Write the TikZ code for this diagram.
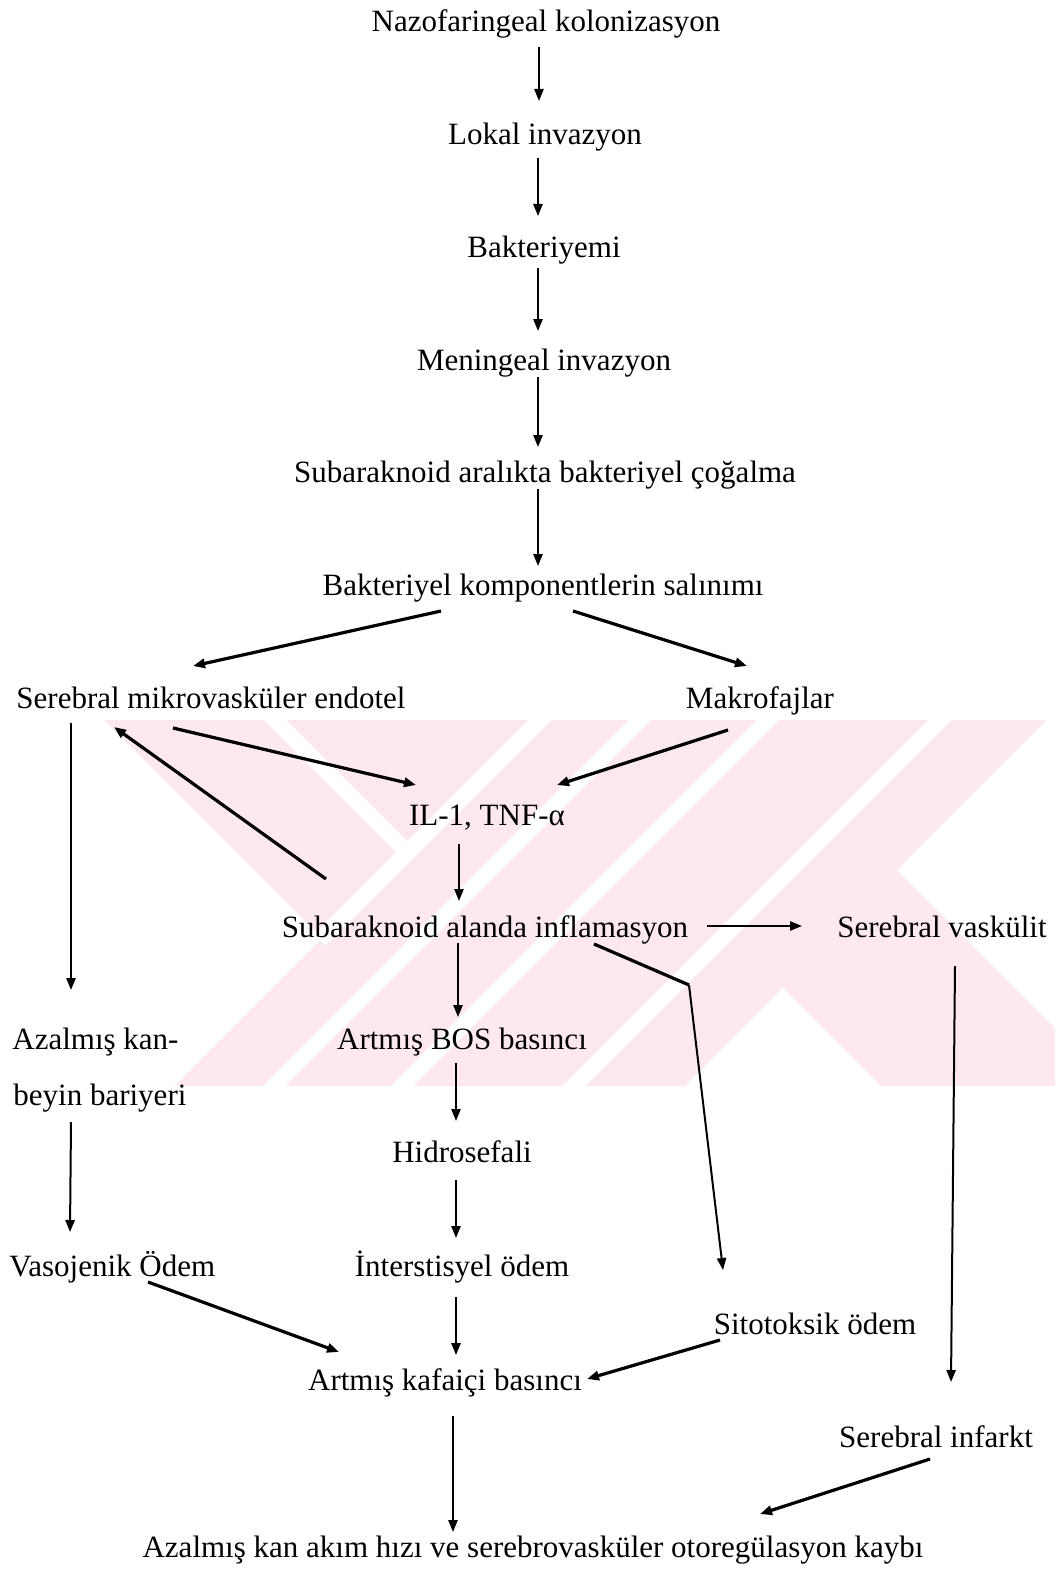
\documentclass[tikz,border=0pt]{standalone}
\usepackage{fontspec}
\setmainfont{Liberation Serif}
\usetikzlibrary{arrows.meta,calc}
\definecolor{wm}{RGB}{253,232,237}
\begin{document}
\begin{tikzpicture}[x=0.5pt,y=-0.5pt,
  lbl/.style={inner sep=0pt, text height=10.5pt, text depth=3.5pt, font=\fontsize{15.5}{18}\selectfont},
  arr/.style={-{Triangle[length=6pt,width=4.6pt]}, line width=1pt},
  tarr/.style={arr, line width=1.6pt},
  wline/.style={white, line width=8pt},
]
\useasboundingbox (0,0) rectangle (1055,1573);
\fill[white] (0,0) rectangle (1055,1573);
% watermark
\begin{scope}
  \clip (0,720) rectangle (1055,1086);
  \fill[wm] (0,720) rectangle (1055,1086);
  \fill[white] (-10,700) -- (84,700) -- (322,938) -- (154,1106) -- (-10,1106) -- cycle;
  \draw[wline] (560,700) -- (320,940);
  \draw[wline] (255,700) -- (408,853);
  \draw[wline] (660,700) -- (254,1106);
  \draw[wline] (788,700) -- (382,1106);
  \draw[wline] (960,700) -- (554,1106);
  \fill[white] (783,988) -- (901,1106) -- (665,1106) -- cycle;
  \fill[white] (897,870) -- (1067,700) -- (1075,700) -- (1075,1048) -- cycle;
\end{scope}

% nodes
\node[lbl,anchor=base] (nazo) at (546,32) {Nazofaringeal kolonizasyon};
\node[lbl,anchor=base] (lokal) at (545,145) {Lokal invazyon};
\node[lbl,anchor=base] (bakt) at (544,257) {Bakteriyemi};
\node[lbl,anchor=base] (men) at (544,370) {Meningeal invazyon};
\node[lbl,anchor=base] (subar) at (545,482) {Subaraknoid aralıkta bakteriyel çoğalma};
\node[lbl,anchor=base] (komp) at (543,595) {Bakteriyel komponentlerin salınımı};
\node[lbl,anchor=base] (endo) at (211,708) {Serebral mikrovasküler endotel};
\node[lbl,anchor=base] (makro) at (760,708) {Makrofajlar};
\node[lbl,anchor=base] (il) at (487,825) {IL-1, TNF-α};
\node[lbl,anchor=base] (alan) at (485,937) {Subaraknoid alanda inflamasyon};
\node[lbl,anchor=base] (vask) at (942,937) {Serebral vaskülit};
\node[lbl,anchor=base west] (azal1) at (12,1049) {Azalmış kan-};
\node[lbl,anchor=base west] (azal2) at (13,1105) {beyin bariyeri};
\node[lbl,anchor=base] (bos) at (462,1049) {Artmış BOS basıncı};
\node[lbl,anchor=base] (hidro) at (462,1162) {Hidrosefali};
\node[lbl,anchor=base west] (vaso) at (9,1276) {Vasojenik Ödem};
\node[lbl,anchor=base] (inter) at (462,1276) {İnterstisyel ödem};
\node[lbl,anchor=base] (sito) at (815,1334) {Sitotoksik ödem};
\node[lbl,anchor=base] (kafa) at (445,1390) {Artmış kafaiçi basıncı};
\node[lbl,anchor=base] (infarkt) at (936,1447) {Serebral infarkt};
\node[lbl,anchor=base] (final) at (533,1557) {Azalmış kan akım hızı ve serebrovasküler otoregülasyon kaybı};
\coordinate (bend) at (689,985);

% connectors
\draw[arr] ($(nazo.base)+(-7,15)$) -- ($(lokal.base)+(-6,-44)$);
\draw[arr] ($(lokal.base)+(-7,13)$) -- ($(bakt.base)+(-6,-41)$);
\draw[arr] ($(bakt.base)+(-6,11)$) -- ($(men.base)+(-6,-39)$);
\draw[arr] ($(men.base)+(-6,7)$) -- ($(subar.base)+(-7,-35)$);
\draw[arr] ($(subar.base)+(-7,7)$) -- ($(komp.base)+(-5,-29)$);
\draw[tarr] ($(komp.base)+(-102,16)$) -- ($(endo.base)+(-18,-42)$);
\draw[tarr] ($(komp.base)+(30,16)$) -- ($(makro.base)+(-13,-42)$);
\draw[tarr] ($(endo.base)+(-38,20)$) -- ($(il.base)+(-71,-40)$);
\draw[tarr] ($(makro.base)+(-32,22)$) -- ($(il.base)+(70,-40)$);
\draw[arr] ($(il.base)+(-28,19)$) -- ($(alan.base)+(-26,-36)$);
\draw[tarr] ($(alan.base)+(-159,-58)$) -- ($(endo.base)+(-97,19)$);
\draw[arr] ($(alan.base)+(222,-11)$) -- ($(vask.base)+(-140,-11)$);
\draw[arr] ($(endo.base)+(-140,15)$) -- ($(azal1.base west)+(59,-59)$);
\draw[arr] ($(alan.base)+(-27,6)$) -- ($(bos.base)+(-4,-32)$);
\draw[line width=1.6pt] ($(alan.base)+(109,7)$) -- (bend);
\draw[arr] (bend) -- ($(sito.base)+(-92,-64)$);
\draw[arr] ($(vask.base)+(13,29)$) -- ($(infarkt.base)+(15,-65)$);
\draw[arr] ($(azal2.base west)+(58,17)$) -- ($(vaso.base west)+(61,-44)$);
\draw[arr] ($(bos.base)+(-6,14)$) -- ($(hidro.base)+(-6,-41)$);
\draw[arr] ($(hidro.base)+(-6,18)$) -- ($(inter.base)+(-6,-38)$);
\draw[tarr] ($(vaso.base west)+(139,6)$) -- ($(kafa.base)+(-106,-38)$);
\draw[arr] ($(inter.base)+(-6,21)$) -- ($(kafa.base)+(11,-35)$);
\draw[tarr] ($(sito.base)+(-95,6)$) -- ($(kafa.base)+(142,-11)$);
\draw[arr] ($(kafa.base)+(8,26)$) -- ($(final.base)+(-80,-25)$);
\draw[tarr] ($(infarkt.base)+(-6,12)$) -- ($(final.base)+(227,-43)$);
\end{tikzpicture}
\end{document}
